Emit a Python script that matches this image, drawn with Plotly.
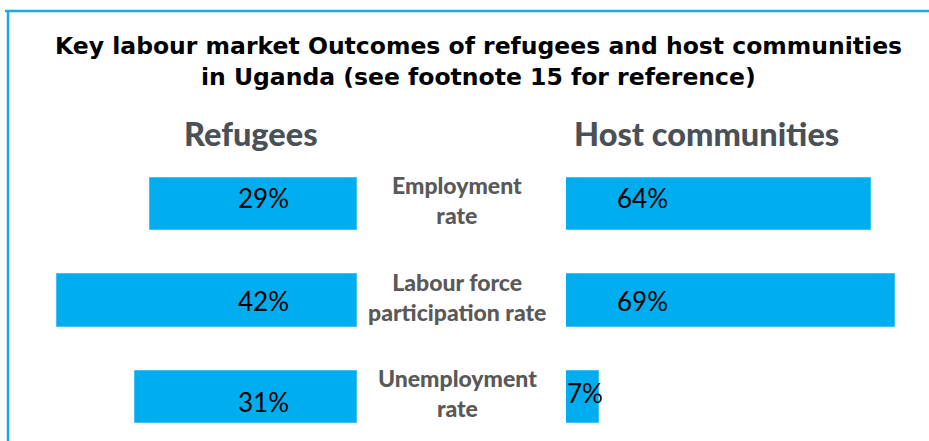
import plotly.graph_objects as go

# ---- data ----
categories = ["Employment<br>rate", "Labour force<br>participation rate", "Unemployment<br>rate"]
refugees = [29, 42, 31]
hosts = [64, 69, 7]
refugee_labels = ["29%", "42%", "31%"]
host_labels = ["64%", "69%", "7%"]
panel_titles = ["Refugees", "Host communities"]
title_lines = ["Key labour market Outcomes of refugees and host communities",
               "in Uganda (see footnote 15 for reference)"]

# ---- style ----
W, H = 929, 441
BAR = "#00AEEF"
FRAME = "#1AA8E8"
GRAY = "#595959"
HEAD = "#4A5058"
ref_label_shift = [6, 0, -5]     # px, + is up
host_label_shift = [6, 0, 4]
ref_label_x = [263, 263, 263]    # px
host_label_x = [642, 642, 585]   # px
rows = list(range(len(categories)))

fig = go.Figure()
fig.add_trace(go.Bar(
    y=rows, x=refugees, orientation="h", xaxis="x", yaxis="y",
    marker=dict(color=BAR, line=dict(color="#40C0F2", width=1)),
    width=0.54, hoverinfo="skip", showlegend=False))
fig.add_trace(go.Bar(
    y=rows, x=hosts, orientation="h", xaxis="x2", yaxis="y",
    marker=dict(color=BAR, line=dict(color="#40C0F2", width=1)),
    width=0.54, hoverinfo="skip", showlegend=False))

ann = []
for i, r in enumerate(rows):
    ann.append(dict(x=ref_label_x[i] / W, xref="paper", y=r, yref="y", text=refugee_labels[i],
                    showarrow=False, yshift=ref_label_shift[i], xanchor="center", yanchor="middle",
                    font=dict(family="Lato", size=26, color="#000000")))
    ann.append(dict(x=host_label_x[i] / W, xref="paper", y=r, yref="y", text=host_labels[i],
                    showarrow=False, yshift=host_label_shift[i], xanchor="center", yanchor="middle",
                    font=dict(family="Lato", size=26, color="#000000")))
    ann.append(dict(x=457 / W, xref="paper", y=r, yref="y", text=categories[i],
                    showarrow=False, yshift=4, align="center", xanchor="center", yanchor="middle",
                    font=dict(family="Lato", size=23, color=GRAY, weight=900)))

ann.append(dict(x=251 / W, y=1 - 133 / H, xref="paper", yref="paper", text=panel_titles[0],
                showarrow=False, xanchor="center", yanchor="middle",
                font=dict(family="Lato", size=32.5, color=HEAD, weight=900)))
ann.append(dict(x=706 / W, y=1 - 133 / H, xref="paper", yref="paper", text=panel_titles[1],
                showarrow=False, xanchor="center", yanchor="middle",
                font=dict(family="Lato", size=32.5, color=HEAD, weight=900)))
for k, (line, ypix) in enumerate(zip(title_lines, [46, 77])):
    ann.append(dict(x=478 / W, y=1 - ypix / H, xref="paper", yref="paper", text="<b>%s</b>" % line,
                    showarrow=False, xanchor="center", yanchor="middle",
                    font=dict(family="DejaVu Sans", size=23.5, color="#000000")))

shapes = [
    dict(type="line", xref="paper", yref="paper", x0=5 / W, x1=1, y0=1 - 11 / H, y1=1 - 11 / H,
         line=dict(color=FRAME, width=2.5)),
    dict(type="line", xref="paper", yref="paper", x0=8 / W, x1=8 / W, y0=1 - 11 / H, y1=0,
         line=dict(color=FRAME, width=2.5)),
]

px_per_unit = 96.5
y_top = -204 / px_per_unit
y_bot = (H - 204) / px_per_unit

fig.update_layout(
    width=W, height=H, margin=dict(l=0, r=0, t=0, b=0),
    paper_bgcolor="white", plot_bgcolor="rgba(0,0,0,0)",
    bargap=0,
    xaxis=dict(domain=[0, 357 / W], range=[357 / 7.15, 0], visible=False, fixedrange=True),
    xaxis2=dict(domain=[566 / W, 1], range=[0, (W - 566) / 4.77], visible=False, fixedrange=True),
    yaxis=dict(range=[y_bot, y_top], visible=False, fixedrange=True),
    annotations=ann, shapes=shapes,
)

fig.write_html("out.html", config={"displayModeBar": False},
               post_script="document.body.style.margin='0px';document.body.style.overflow='hidden';")
